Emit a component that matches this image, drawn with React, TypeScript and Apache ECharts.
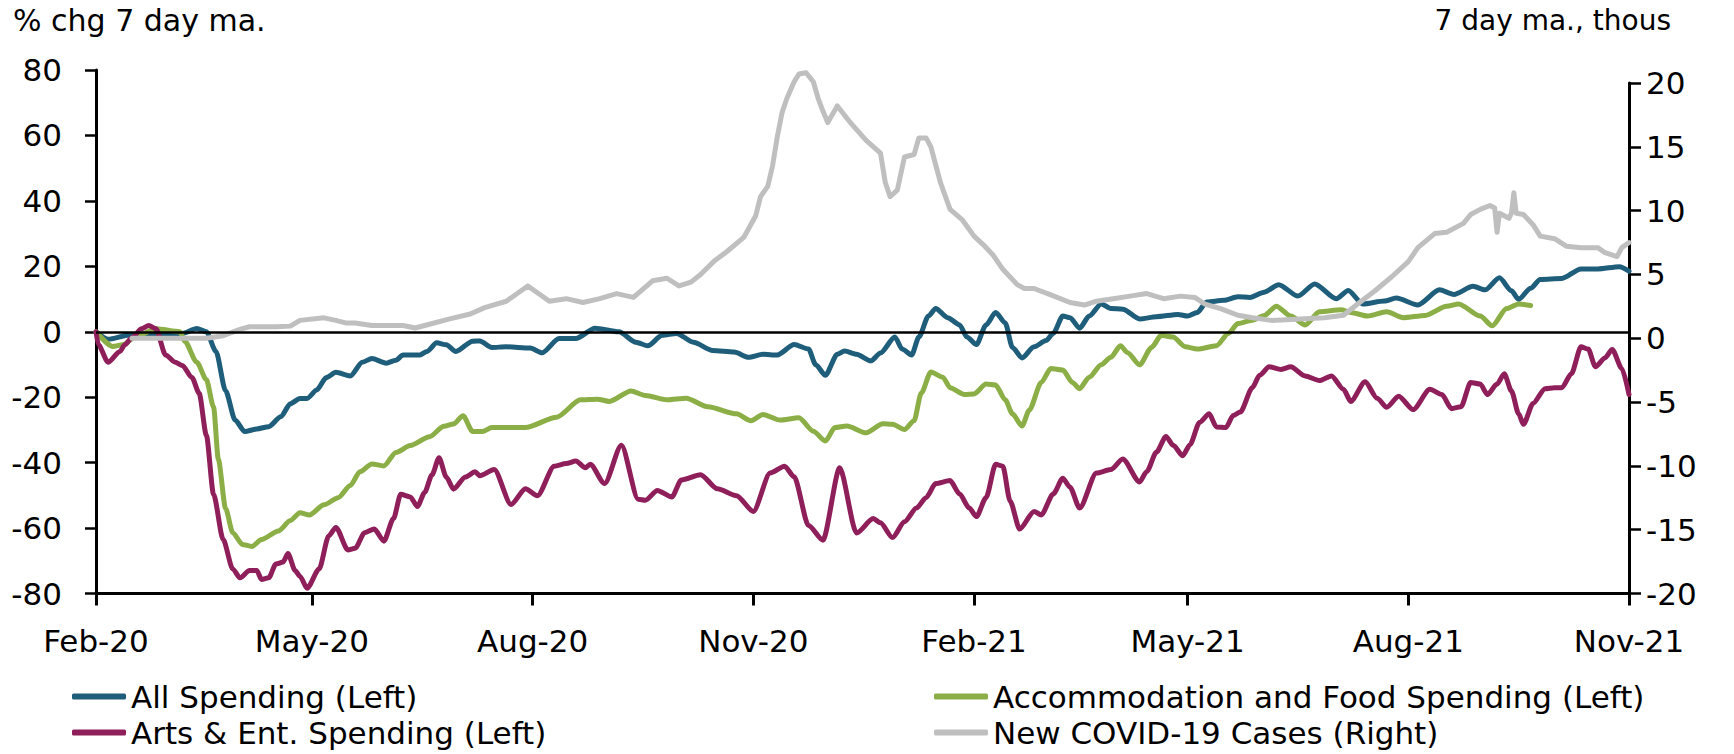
import React, { useEffect, useRef } from "react";
import * as echarts from "echarts";

// Days are counted from 1 Feb 2020 (day 0) to 1 Nov 2021 (day 639)
const allDays = [0,5,14,25,36,42,46,50,54,58,62,67,72,77,81,85,88,92,96,100,106,111,115,121,125,128,135,138,142,146,150,157,160,165,171,181,186,193,200,208,218,225,230,236,242,249,257,266,272,278,284,291,297,300,304,309,312,317,323,327,333,336,340,343,347,350,355,360,363,367,371,375,379,382,386,391,396,399,403,406,410,414,419,423,428,435,442,451,455,459,463,470,476,481,487,493,501,508,517,522,528,537,542,551,560,566,574,579,585,590,593,598,602,611,619,626,635,639];
const allValues = [0,-2.3,-1,-0.5,-0.5,1,0,-6,-18,-27,-30.5,-29.7,-29,-26,-22,-20.4,-20.4,-17.8,-14,-12.4,-13.5,-9.3,-8.2,-9.6,-8.7,-7.1,-7.1,-6,-3.4,-4,-6,-2.9,-2.8,-4.8,-4.6,-5,-6.4,-2.1,-2.1,1.1,0,-3.2,-4.3,-1.1,-0.5,-3.2,-5.7,-6.2,-7.8,-6.9,-7.1,-3.9,-5.3,-10.1,-13.3,-6.9,-5.9,-6.9,-8.9,-6.5,-1.6,-5.3,-7.1,-1.6,4.8,7.1,4.3,2.1,-1.6,-3.9,2.1,5.9,2.7,-4.8,-8,-4.6,-2.7,-0.5,4.8,4.3,1.1,4.8,8.5,7.1,6.9,3.9,4.6,5.3,4.8,5.9,9.1,9.6,10.7,10.5,12.1,14.4,10.9,14.6,10.1,12.6,8.5,9.4,10.3,8.2,12.8,11.4,13.9,12.8,16.5,12.5,9.9,13.3,16,16.3,19.2,19.2,19.9,18.5];

const accDays = [0,7,11,17,25,35,37,42,46,49,51,54,57,61,65,69,76,81,85,89,95,101,106,110,115,120,125,131,139,145,149,153,157,161,165,179,192,202,209,214,223,229,238,246,255,267,273,278,285,293,299,304,308,313,321,328,332,337,341,344,348,353,356,362,366,371,375,379,382,386,389,394,398,403,407,410,414,419,423,427,430,435,440,444,449,454,459,467,472,476,482,487,492,498,504,510,519,523,530,538,545,554,563,568,577,582,588,593,598];
const accValues = [0,-4.5,-4,-1.3,0.9,0,-2.9,-9.3,-14.6,-23,-39,-54,-61.4,-65,-65.6,-63.5,-60.9,-57.7,-55.3,-56,-52.9,-50.7,-47,-42.8,-40.4,-41,-36.9,-34.8,-32.1,-28.9,-28.2,-25.7,-30.5,-30.5,-29.3,-29.3,-26.1,-20.8,-20.6,-21.3,-18.1,-19.5,-20.8,-20.3,-22.9,-25.1,-27.2,-25.3,-27,-26.3,-30.4,-33.4,-29.3,-28.8,-30.9,-28.1,-28.3,-29.9,-27.2,-18.7,-12.3,-13.9,-17.1,-19.2,-19,-16,-16.3,-20.8,-25.1,-28.8,-24,-15.5,-11.2,-11.7,-15.5,-17.4,-13.9,-10.1,-7.8,-4.3,-6.4,-10.1,-4.8,-1.1,-1.6,-4.6,-5.3,-4.3,-0.5,2.5,3.5,5,7.8,4.8,2.1,6.1,6.7,5.9,4.8,6.1,4.3,5,7.8,8.5,4.8,1.8,7.1,8.5,8];

const artsDays = [0,1,5,10,12,15,19,22,25,29,33,36,40,43,46,49,53,57,60,64,67,69,72,75,78,80,83,85,88,93,97,100,105,108,112,116,120,124,127,131,134,137,140,143,146,149,154,158,160,166,173,179,184,191,196,200,204,206,212,219,226,229,234,240,244,252,259,267,274,281,287,291,297,303,310,317,324,327,332,337,342,346,350,356,360,364,367,371,375,378,381,385,391,394,399,403,406,410,417,423,428,435,438,442,446,449,453,456,460,464,467,471,474,477,482,485,489,494,498,504,510,515,520,523,529,534,538,543,549,556,561,565,569,573,577,580,584,587,590,593,595,599,604,608,611,615,619,622,625,629,632,636,639];
const artsValues = [0,-4,-9.3,-6,-4,-1.8,0.9,1.9,0.9,-7.1,-9.3,-10.3,-14,-18.8,-31.6,-49.7,-63.5,-72.5,-75.2,-73,-73,-75.7,-75.2,-71,-70.4,-67.8,-73,-74.7,-78.4,-72.5,-62.4,-59.8,-66.7,-66.2,-61.4,-60.3,-64,-57.1,-49.7,-50.5,-53.4,-49.1,-43.8,-38.5,-44.4,-48.1,-44.4,-42.8,-44,-42.1,-52.8,-48,-50.1,-41.1,-40.3,-39.5,-41.6,-40.5,-46.4,-34.7,-51.2,-51.5,-48.5,-50.5,-45.3,-43.7,-48,-50.1,-54.9,-43.2,-41.1,-44.3,-59.2,-63.7,-41.6,-61.5,-57.1,-58.4,-62.9,-58.1,-53.9,-50.7,-46.4,-45.5,-49.6,-53.9,-56.5,-50.7,-40.5,-41.1,-51.7,-60.3,-54.9,-56,-49.6,-44.8,-47.5,-53.9,-43.2,-42.1,-38.9,-45.9,-42.7,-36.8,-32,-34.7,-37.9,-34.5,-27.7,-25.1,-29.1,-29.3,-25.6,-24.5,-17.1,-13.3,-10.7,-11.5,-10.7,-13.5,-14.9,-13.5,-17.6,-21.3,-15.3,-20.3,-23.1,-19.7,-23.8,-17.6,-19.2,-23.5,-22.9,-15.5,-16,-19.2,-16,-12.8,-18.1,-25.1,-28.3,-21.9,-17.4,-17.1,-17.1,-12.8,-4.6,-5.3,-10.7,-8,-5.4,-11.2,-19.2];

const covidDays = [15,25,46,53,60,64,75,81,85,95,100,104,108,115,122,128,133,139,147,156,162,171,180,189,196,203,210,217,224,232,238,243,248,252,258,263,270,275,277,280,282,284,286,288,291,293,296,299,301,303,305,309,314,321,327,329,331,334,337,341,343,346,348,352,356,361,366,370,374,378,384,387,391,398,406,412,417,424,431,438,445,452,458,462,469,476,482,490,502,512,520,526,533,540,547,551,558,563,570,573,577,581,583,584,585,589,590,591,592,595,599,602,608,613,619,626,629,634,636,639];
const covidValues = [0,0,0,0.2,0.7,0.9,0.9,0.95,1.4,1.6,1.4,1.2,1.2,1,1,1,0.8,1.1,1.5,1.9,2.4,2.9,4.1,2.9,3.1,2.8,3.1,3.5,3.2,4.5,4.7,4.1,4.4,5,6.1,6.8,7.9,9.6,11.1,11.9,13.5,15.8,17.7,18.8,20.1,20.7,20.8,20.1,18.8,17.8,16.9,18.2,17,15.5,14.5,12.2,11.1,11.6,14.2,14.4,15.7,15.7,15,12.2,10.1,9.3,8,7.3,6.5,5.4,4.2,3.9,3.9,3.4,2.8,2.6,2.9,3.1,3.3,3.5,3.1,3.3,3.2,2.7,2.3,1.8,1.6,1.4,1.5,1.6,1.8,2.7,3.7,4.8,6,7.1,8.2,8.3,9,9.7,10.1,10.4,10.2,8.3,9.8,9.4,9.8,11.4,9.8,9.7,8.9,8,7.8,7.2,7.1,7.1,6.7,6.4,7.1,7.5];

const tickMonths = ["2020-02", "2020-05", "2020-08", "2020-11", "2021-02", "2021-05", "2021-08", "2021-11"];
const leftTicks = { min: -80, max: 80, step: 20 };
const rightTicks = { min: -20, max: 20, step: 5 };

const names = [
  "All Spending (Left)",
  "Accommodation and Food Spending (Left)",
  "Arts & Ent. Spending (Left)",
  "New COVID-19 Cases (Right)",
];
const colors = ["#1f5e7a", "#8bae46", "#8e1f5a", "#bfbfbf"];

const MONTHS = ["Jan","Feb","Mar","Apr","May","Jun","Jul","Aug","Sep","Oct","Nov","Dec"];
const FONT = "DejaVu Sans";
const DAY_MS = 86400000;
const START = Date.UTC(2020, 1, 1);

const monthToDay = (s: string) => {
  const [y, m] = s.split("-").map(Number);
  return Math.round((Date.UTC(y, m - 1, 1) - START) / DAY_MS);
};
const dayLabel = (d: number) => {
  const dt = new Date(START + Math.round(d) * DAY_MS);
  return MONTHS[dt.getUTCMonth()] + "-" + String(dt.getUTCFullYear()).slice(2);
};
const pairs = (days: number[], vals: number[]) => days.map((d, i) => [d, vals[i]]);

export default function App() {
  const ref = useRef<HTMLDivElement>(null);
  useEffect(() => {
    if (!ref.current) return;
    const chart = echarts.init(ref.current, null, { renderer: "svg" });
    const tickValues = tickMonths.map(monthToDay);
    const xMin = tickValues[0];
    const xMax = tickValues[tickValues.length - 1];
    const baseText = { fontFamily: FONT, fontSize: 31, color: "#000" };
    const lineSeries = (idx: number, data: any[], extra: any = {}) => ({
      name: names[idx],
      type: "line",
      data,
      showSymbol: false,
      symbol: "none",
      color: colors[idx],
      smooth: idx === 3 ? false : 0.25,
      smoothMonotone: "x",
      lineStyle: { color: colors[idx], width: 5, cap: "round", join: "round" },
      emphasis: { disabled: true },
      ...extra,
    });
    const xAxisBase = {
      type: "value",
      min: xMin,
      max: xMax,
      splitLine: { show: false },
    };
    const legendBase = {
      orient: "vertical",
      itemWidth: 54,
      itemHeight: 6,
      itemGap: 5,
      icon: "roundRect",
      selectedMode: false,
      padding: 0,
      textStyle: { ...baseText, lineHeight: 31 },
    };
    chart.setOption({
      animation: false,
      backgroundColor: "#fff",
      grid: [
        { left: 96, right: 105, top: 70, bottom: 160.5 },
        { left: 96, right: 105, top: 83, bottom: 160.5 },
      ],
      xAxis: [
        {
          ...xAxisBase,
          gridIndex: 0,
          axisLine: { onZero: false, lineStyle: { color: "#000", width: 3 } },
          axisTick: { show: true, inside: false, customValues: tickValues, length: 12, lineStyle: { color: "#000", width: 3 } },
          axisLabel: {
            ...baseText,
            customValues: tickValues,
            margin: 32,
            lineHeight: 31,
            formatter: (v: number) => dayLabel(v),
          },
        },
        { ...xAxisBase, gridIndex: 1, show: false, axisLine: { onZero: false } },
      ],
      yAxis: [
        {
          type: "value",
          gridIndex: 0,
          position: "left",
          min: leftTicks.min,
          max: leftTicks.max,
          interval: leftTicks.step,
          splitLine: { show: false },
          axisLine: { show: true, onZero: false, lineStyle: { color: "#000", width: 3 } },
          axisTick: { show: true, inside: false, length: 11, lineStyle: { color: "#000", width: 2.5 } },
          axisLabel: { ...baseText, inside: false, margin: 34 },
        },
        {
          type: "value",
          gridIndex: 1,
          position: "right",
          min: rightTicks.min,
          max: rightTicks.max,
          interval: rightTicks.step,
          splitLine: { show: false },
          axisLine: { show: true, onZero: false, lineStyle: { color: "#000", width: 3 } },
          axisTick: { show: true, inside: false, length: 12, lineStyle: { color: "#000", width: 2.5 } },
          axisLabel: { ...baseText, inside: false, margin: 17, align: "left" },
        },
      ],
      legend: [
        { ...legendBase, left: 72, top: 681, data: [names[0], names[2]] },
        { ...legendBase, left: 934, top: 681, data: [names[1], names[3]] },
      ],
      graphic: [
        {
          type: "text",
          x: 13,
          y: 20,
          style: { text: "% chg 7 day ma.", fontFamily: FONT, fontSize: 30, fill: "#000", align: "left", verticalAlign: "middle" },
        },
        {
          type: "text",
          x: 1671,
          y: 20,
          style: { text: "7 day ma., thous", fontFamily: FONT, fontSize: 28, fill: "#000", align: "right", verticalAlign: "middle" },
        },
      ],
      series: [
        lineSeries(0, pairs(allDays, allValues), {
          xAxisIndex: 0,
          yAxisIndex: 0,
          markLine: {
            silent: true,
            symbol: ["none", "none"],
            label: { show: false },
            lineStyle: { color: "#000", width: 2.5, type: "solid" },
            data: [{ yAxis: 0 }],
          },
        }),
        lineSeries(1, pairs(accDays, accValues), { xAxisIndex: 0, yAxisIndex: 0 }),
        lineSeries(2, pairs(artsDays, artsValues), { xAxisIndex: 0, yAxisIndex: 0 }),
        lineSeries(3, pairs(covidDays, covidValues), { xAxisIndex: 1, yAxisIndex: 1, clip: false }),
      ],
    });
    return () => chart.dispose();
  }, []);
  return (
    <div
      ref={ref}
      style={{ position: "fixed", left: 0, top: 0, width: 1734, height: 754, background: "#fff" }}
    />
  );
}
